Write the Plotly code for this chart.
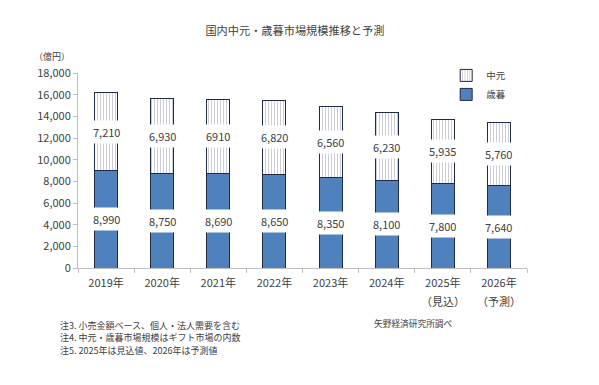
import plotly.graph_objects as go

years = ["2019年", "2020年", "2021年", "2022年", "2023年", "2024年", "2025年", "2026年"]
year_notes = ["", "", "", "", "", "", "（見込）", "（予測）"]
seibo = [8990, 8750, 8690, 8650, 8350, 8100, 7800, 7640]
chugen = [7210, 6930, 6910, 6820, 6560, 6230, 5935, 5760]
chugen_labels = ["7,210", "6,930", "6910", "6,820", "6,560", "6,230", "5,935", "5,760"]
seibo_labels = [f"{v:,}" for v in seibo]
notes = ["注3. 小売金額ベース、個人・法人需要を含む",
         "注4. 中元・歳暮市場規模はギフト市場の内数",
         "注5. 2025年は見込値、2026年は予測値"]

FONT = "Noto Sans CJK JP"
TXT = "#404040"

fig = go.Figure()
fig.add_trace(go.Bar(
    x=years, y=seibo, name="歳暮",
    marker=dict(color="#4f81bd", line=dict(color="#1f2a44", width=1)),
    width=0.41,
))
fig.add_trace(go.Bar(
    x=years, y=chugen, name="中元",
    marker=dict(color="white", line=dict(color="#1f2a44", width=1),
                pattern=dict(shape="|", fgcolor="#8c8cad", bgcolor="white", size=3, solidity=0.3)),
    width=0.41,
))

annotations = []
for i, yr in enumerate(years):
    annotations.append(dict(x=yr, y=seibo[i] / 2, text=seibo_labels[i], showarrow=False,
                            bgcolor="white", borderpad=3,
                            font=dict(family=FONT, size=11, color=TXT)))
    annotations.append(dict(x=yr, y=seibo[i] + chugen[i] / 2, text=chugen_labels[i], showarrow=False,
                            bgcolor="white", borderpad=3,
                            font=dict(family=FONT, size=11, color=TXT)))
    if year_notes[i]:
        annotations.append(dict(x=yr, yref="paper", y=(268 - 300.5) / 195, yanchor="middle",
                                text=year_notes[i], showarrow=False,
                                font=dict(family=FONT, size=11, color=TXT)))

annotations.append(dict(xref="paper", yref="paper", x=-0.058, y=(268 - 56) / 195, xanchor="center", yanchor="middle",
                        text="（億円）", showarrow=False, font=dict(family=FONT, size=9, color=TXT)))
for k, line in enumerate(notes):
    annotations.append(dict(xref="paper", yref="paper", x=-0.045, y=(268 - (325 + 12.5 * k)) / 195,
                            xanchor="left", yanchor="middle", align="left",
                            text=line, showarrow=False, font=dict(family=FONT, size=9, color=TXT)))
annotations.append(dict(xref="paper", yref="paper", x=0.655, y=(268 - 323) / 195, xanchor="left", yanchor="middle",
                        text="矢野経済研究所調べ", showarrow=False, font=dict(family=FONT, size=8.7, color=TXT)))

fig.update_layout(
    width=599, height=385,
    margin=dict(l=70, r=80, t=65, b=125),
    paper_bgcolor="white", plot_bgcolor="white",
    barmode="stack",
    title=dict(text="国内中元・歳暮市場規模推移と予測", x=0.479, xanchor="center", y=0.94, yanchor="middle",
               font=dict(family=FONT, size=11.2, color=TXT)),
    font=dict(family=FONT, size=11, color=TXT),
    showlegend=True,
    legend=dict(x=0.82, y=1.062, xanchor="left", yanchor="top", bgcolor="rgba(0,0,0,0)",
                font=dict(family=FONT, size=9.5, color=TXT), itemwidth=30),
    annotations=annotations,
)
fig.update_xaxes(showline=True, linecolor="#bfbfbf", ticks="outside", tickson="boundaries",
                 ticklen=4, tickcolor="#bfbfbf", showgrid=False, ticklabelstandoff=5,
                 tickfont=dict(family=FONT, size=11, color=TXT))
fig.update_yaxes(range=[0, 18000], dtick=2000, tickformat=",", showline=True, linecolor="#bfbfbf",
                 ticks="outside", ticklen=4, tickcolor="#bfbfbf", showgrid=False, zeroline=False,
                 tickfont=dict(family=FONT, size=11, color=TXT))

fig.write_html("out.html")
